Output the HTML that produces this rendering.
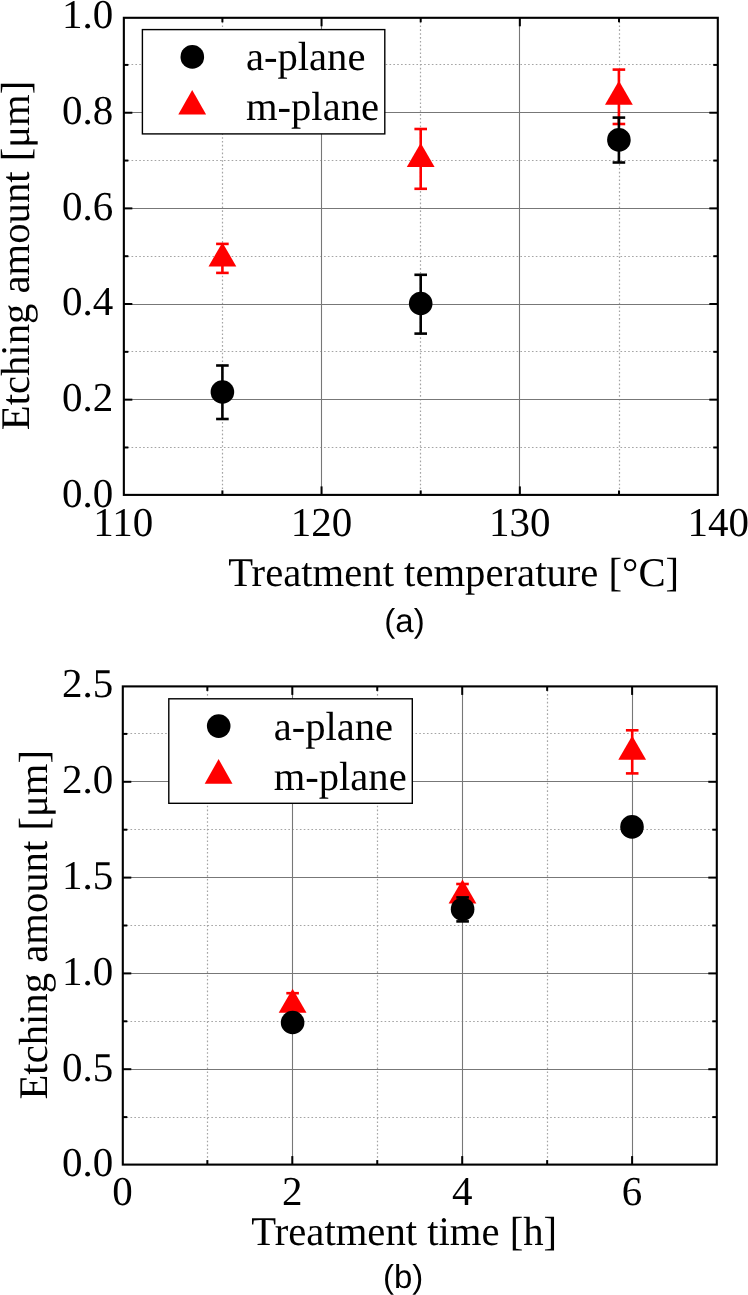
<!DOCTYPE html>
<html><head><meta charset="utf-8"><style>
html,body{margin:0;padding:0;background:#fff;width:748px;height:1295px;overflow:hidden}
svg{display:block;filter:blur(0.35px)}
text{text-rendering:geometricPrecision}
.t{font-family:"Liberation Serif", serif;font-size:41px;fill:#000}
.l{font-family:"Liberation Serif", serif;font-size:40.6px;fill:#000}
.a{font-family:"Liberation Serif", serif;font-size:40.7px;fill:#000}
.c{font-family:"Liberation Sans", sans-serif;font-size:33px;fill:#000}
</style></head><body>
<svg width="748" height="1295" viewBox="0 0 748 1295">
<rect width="748" height="1295" fill="#fff"/>
<line x1="222.5" y1="17.8" x2="222.5" y2="494.9" stroke="#a4a4a4" stroke-width="1.2" stroke-dasharray="1.6 2.25"/>
<line x1="420.5" y1="17.8" x2="420.5" y2="494.9" stroke="#a4a4a4" stroke-width="1.2" stroke-dasharray="1.6 2.25"/>
<line x1="619.5" y1="17.8" x2="619.5" y2="494.9" stroke="#a4a4a4" stroke-width="1.2" stroke-dasharray="1.6 2.25"/>
<line x1="123.85" y1="447.5" x2="717.8" y2="447.5" stroke="#a4a4a4" stroke-width="1.2" stroke-dasharray="1.6 2.25"/>
<line x1="123.85" y1="351.5" x2="717.8" y2="351.5" stroke="#a4a4a4" stroke-width="1.2" stroke-dasharray="1.6 2.25"/>
<line x1="123.85" y1="256.5" x2="717.8" y2="256.5" stroke="#a4a4a4" stroke-width="1.2" stroke-dasharray="1.6 2.25"/>
<line x1="123.85" y1="160.5" x2="717.8" y2="160.5" stroke="#a4a4a4" stroke-width="1.2" stroke-dasharray="1.6 2.25"/>
<line x1="123.85" y1="64.5" x2="717.8" y2="64.5" stroke="#a4a4a4" stroke-width="1.2" stroke-dasharray="1.6 2.25"/>
<line x1="321.5" y1="17.8" x2="321.5" y2="494.9" stroke="#777777" stroke-width="1.1"/>
<line x1="519.5" y1="17.8" x2="519.5" y2="494.9" stroke="#777777" stroke-width="1.1"/>
<line x1="123.85" y1="399.5" x2="717.8" y2="399.5" stroke="#777777" stroke-width="1.1"/>
<line x1="123.85" y1="304.5" x2="717.8" y2="304.5" stroke="#777777" stroke-width="1.1"/>
<line x1="123.85" y1="208.5" x2="717.8" y2="208.5" stroke="#777777" stroke-width="1.1"/>
<line x1="123.85" y1="112.5" x2="717.8" y2="112.5" stroke="#777777" stroke-width="1.1"/>
<line x1="321.55" y1="494.9" x2="321.55" y2="486.4" stroke="#000" stroke-width="2"/>
<line x1="321.55" y1="17.8" x2="321.55" y2="26.3" stroke="#000" stroke-width="2"/>
<line x1="519.85" y1="494.9" x2="519.85" y2="486.4" stroke="#000" stroke-width="2"/>
<line x1="519.85" y1="17.8" x2="519.85" y2="26.3" stroke="#000" stroke-width="2"/>
<line x1="222.4" y1="494.9" x2="222.4" y2="490.4" stroke="#000" stroke-width="2"/>
<line x1="222.4" y1="17.8" x2="222.4" y2="22.3" stroke="#000" stroke-width="2"/>
<line x1="420.7" y1="494.9" x2="420.7" y2="490.4" stroke="#000" stroke-width="2"/>
<line x1="420.7" y1="17.8" x2="420.7" y2="22.3" stroke="#000" stroke-width="2"/>
<line x1="619" y1="494.9" x2="619" y2="490.4" stroke="#000" stroke-width="2"/>
<line x1="619" y1="17.8" x2="619" y2="22.3" stroke="#000" stroke-width="2"/>
<line x1="123.85" y1="399.66" x2="132.35" y2="399.66" stroke="#000" stroke-width="2"/>
<line x1="717.8" y1="399.66" x2="709.3" y2="399.66" stroke="#000" stroke-width="2"/>
<line x1="123.85" y1="304.02" x2="132.35" y2="304.02" stroke="#000" stroke-width="2"/>
<line x1="717.8" y1="304.02" x2="709.3" y2="304.02" stroke="#000" stroke-width="2"/>
<line x1="123.85" y1="208.38" x2="132.35" y2="208.38" stroke="#000" stroke-width="2"/>
<line x1="717.8" y1="208.38" x2="709.3" y2="208.38" stroke="#000" stroke-width="2"/>
<line x1="123.85" y1="112.74" x2="132.35" y2="112.74" stroke="#000" stroke-width="2"/>
<line x1="717.8" y1="112.74" x2="709.3" y2="112.74" stroke="#000" stroke-width="2"/>
<line x1="123.85" y1="447.48" x2="128.35" y2="447.48" stroke="#000" stroke-width="2"/>
<line x1="717.8" y1="447.48" x2="713.3" y2="447.48" stroke="#000" stroke-width="2"/>
<line x1="123.85" y1="351.84" x2="128.35" y2="351.84" stroke="#000" stroke-width="2"/>
<line x1="717.8" y1="351.84" x2="713.3" y2="351.84" stroke="#000" stroke-width="2"/>
<line x1="123.85" y1="256.2" x2="128.35" y2="256.2" stroke="#000" stroke-width="2"/>
<line x1="717.8" y1="256.2" x2="713.3" y2="256.2" stroke="#000" stroke-width="2"/>
<line x1="123.85" y1="160.56" x2="128.35" y2="160.56" stroke="#000" stroke-width="2"/>
<line x1="717.8" y1="160.56" x2="713.3" y2="160.56" stroke="#000" stroke-width="2"/>
<line x1="123.85" y1="64.92" x2="128.35" y2="64.92" stroke="#000" stroke-width="2"/>
<line x1="717.8" y1="64.92" x2="713.3" y2="64.92" stroke="#000" stroke-width="2"/>
<rect x="123.85" y="17.8" width="593.95" height="477.1" fill="none" stroke="#000" stroke-width="2.1"/>
<text x="113.3" y="506.6" text-anchor="end" class="t">0.0</text>
<text x="113.3" y="410.96" text-anchor="end" class="t">0.2</text>
<text x="113.3" y="315.32" text-anchor="end" class="t">0.4</text>
<text x="113.3" y="219.68" text-anchor="end" class="t">0.6</text>
<text x="113.3" y="124.04" text-anchor="end" class="t">0.8</text>
<text x="113.3" y="28.4" text-anchor="end" class="t">1.0</text>
<text x="123.25" y="535.7" text-anchor="middle" class="t">110</text>
<text x="321.55" y="535.7" text-anchor="middle" class="t">120</text>
<text x="519.85" y="535.7" text-anchor="middle" class="t">130</text>
<text x="718.15" y="535.7" text-anchor="middle" class="t">140</text>
<line x1="222.4" y1="243.9" x2="222.4" y2="272.9" stroke="#ff0000" stroke-width="2.6"/><line x1="216.1" y1="243.9" x2="228.7" y2="243.9" stroke="#ff0000" stroke-width="2.6"/><line x1="216.1" y1="272.9" x2="228.7" y2="272.9" stroke="#ff0000" stroke-width="2.6"/>
<path d="M222.4 242.4L236.3 266.4L208.5 266.4Z" fill="#ff0000"/>
<line x1="420.7" y1="129" x2="420.7" y2="188.8" stroke="#ff0000" stroke-width="2.6"/><line x1="414.4" y1="129" x2="427" y2="129" stroke="#ff0000" stroke-width="2.6"/><line x1="414.4" y1="188.8" x2="427" y2="188.8" stroke="#ff0000" stroke-width="2.6"/>
<path d="M420.7 142.9L434.6 166.9L406.8 166.9Z" fill="#ff0000"/>
<line x1="618.9" y1="69.6" x2="618.9" y2="124" stroke="#ff0000" stroke-width="2.6"/><line x1="612.6" y1="69.6" x2="625.2" y2="69.6" stroke="#ff0000" stroke-width="2.6"/><line x1="612.6" y1="124" x2="625.2" y2="124" stroke="#ff0000" stroke-width="2.6"/>
<path d="M618.9 80.8L632.8 104.8L605 104.8Z" fill="#ff0000"/>
<line x1="222.4" y1="365.5" x2="222.4" y2="419" stroke="#000" stroke-width="2.6"/><line x1="216.1" y1="365.5" x2="228.7" y2="365.5" stroke="#000" stroke-width="2.6"/><line x1="216.1" y1="419" x2="228.7" y2="419" stroke="#000" stroke-width="2.6"/>
<circle cx="222.4" cy="392" r="11.8" fill="#000"/>
<line x1="420.7" y1="274.8" x2="420.7" y2="333.6" stroke="#000" stroke-width="2.6"/><line x1="414.4" y1="274.8" x2="427" y2="274.8" stroke="#000" stroke-width="2.6"/><line x1="414.4" y1="333.6" x2="427" y2="333.6" stroke="#000" stroke-width="2.6"/>
<circle cx="420.7" cy="303.5" r="11.8" fill="#000"/>
<line x1="618.9" y1="117.6" x2="618.9" y2="162.5" stroke="#000" stroke-width="2.6"/><line x1="612.6" y1="117.6" x2="625.2" y2="117.6" stroke="#000" stroke-width="2.6"/><line x1="612.6" y1="162.5" x2="625.2" y2="162.5" stroke="#000" stroke-width="2.6"/>
<circle cx="618.9" cy="139.9" r="11.8" fill="#000"/>
<rect x="142.4" y="29.6" width="242.4" height="104.3" fill="#fff" stroke="#000" stroke-width="1.4"/>
<circle cx="192.3" cy="56.9" r="11.8" fill="#000"/>
<path d="M192.2 89.9L206.1 114.5L178.3 114.5Z" fill="#ff0000"/>
<text x="246" y="69.6" class="l">a-plane</text>
<text x="246" y="119.5" class="l">m-plane</text>
<text x="228.2" y="585.6" class="a">Treatment temperature [°C]</text>
<text transform="translate(29.3,430.2) rotate(-90)" x="0" y="0" class="a">Etching amount [μm]</text>
<text x="384.3" y="631.6" class="c">(a)</text>
<line x1="207.5" y1="686.4" x2="207.5" y2="1164.6" stroke="#a4a4a4" stroke-width="1.2" stroke-dasharray="1.6 2.25"/>
<line x1="377.5" y1="686.4" x2="377.5" y2="1164.6" stroke="#a4a4a4" stroke-width="1.2" stroke-dasharray="1.6 2.25"/>
<line x1="547.5" y1="686.4" x2="547.5" y2="1164.6" stroke="#a4a4a4" stroke-width="1.2" stroke-dasharray="1.6 2.25"/>
<line x1="122.8" y1="1117.5" x2="716.8" y2="1117.5" stroke="#a4a4a4" stroke-width="1.2" stroke-dasharray="1.6 2.25"/>
<line x1="122.8" y1="1021.5" x2="716.8" y2="1021.5" stroke="#a4a4a4" stroke-width="1.2" stroke-dasharray="1.6 2.25"/>
<line x1="122.8" y1="925.5" x2="716.8" y2="925.5" stroke="#a4a4a4" stroke-width="1.2" stroke-dasharray="1.6 2.25"/>
<line x1="122.8" y1="829.5" x2="716.8" y2="829.5" stroke="#a4a4a4" stroke-width="1.2" stroke-dasharray="1.6 2.25"/>
<line x1="122.8" y1="733.5" x2="716.8" y2="733.5" stroke="#a4a4a4" stroke-width="1.2" stroke-dasharray="1.6 2.25"/>
<line x1="292.5" y1="686.4" x2="292.5" y2="1164.6" stroke="#777777" stroke-width="1.1"/>
<line x1="462.5" y1="686.4" x2="462.5" y2="1164.6" stroke="#777777" stroke-width="1.1"/>
<line x1="632.5" y1="686.4" x2="632.5" y2="1164.6" stroke="#777777" stroke-width="1.1"/>
<line x1="122.8" y1="1069.5" x2="716.8" y2="1069.5" stroke="#777777" stroke-width="1.1"/>
<line x1="122.8" y1="973.5" x2="716.8" y2="973.5" stroke="#777777" stroke-width="1.1"/>
<line x1="122.8" y1="877.5" x2="716.8" y2="877.5" stroke="#777777" stroke-width="1.1"/>
<line x1="122.8" y1="781.5" x2="716.8" y2="781.5" stroke="#777777" stroke-width="1.1"/>
<line x1="292.3" y1="1164.6" x2="292.3" y2="1156.1" stroke="#000" stroke-width="2"/>
<line x1="292.3" y1="686.4" x2="292.3" y2="694.9" stroke="#000" stroke-width="2"/>
<line x1="462.2" y1="1164.6" x2="462.2" y2="1156.1" stroke="#000" stroke-width="2"/>
<line x1="462.2" y1="686.4" x2="462.2" y2="694.9" stroke="#000" stroke-width="2"/>
<line x1="632.1" y1="1164.6" x2="632.1" y2="1156.1" stroke="#000" stroke-width="2"/>
<line x1="632.1" y1="686.4" x2="632.1" y2="694.9" stroke="#000" stroke-width="2"/>
<line x1="207.35" y1="1164.6" x2="207.35" y2="1160.1" stroke="#000" stroke-width="2"/>
<line x1="207.35" y1="686.4" x2="207.35" y2="690.9" stroke="#000" stroke-width="2"/>
<line x1="377.25" y1="1164.6" x2="377.25" y2="1160.1" stroke="#000" stroke-width="2"/>
<line x1="377.25" y1="686.4" x2="377.25" y2="690.9" stroke="#000" stroke-width="2"/>
<line x1="547.15" y1="1164.6" x2="547.15" y2="1160.1" stroke="#000" stroke-width="2"/>
<line x1="547.15" y1="686.4" x2="547.15" y2="690.9" stroke="#000" stroke-width="2"/>
<line x1="122.8" y1="1069.2" x2="131.3" y2="1069.2" stroke="#000" stroke-width="2"/>
<line x1="716.8" y1="1069.2" x2="708.3" y2="1069.2" stroke="#000" stroke-width="2"/>
<line x1="122.8" y1="973.4" x2="131.3" y2="973.4" stroke="#000" stroke-width="2"/>
<line x1="716.8" y1="973.4" x2="708.3" y2="973.4" stroke="#000" stroke-width="2"/>
<line x1="122.8" y1="877.6" x2="131.3" y2="877.6" stroke="#000" stroke-width="2"/>
<line x1="716.8" y1="877.6" x2="708.3" y2="877.6" stroke="#000" stroke-width="2"/>
<line x1="122.8" y1="781.8" x2="131.3" y2="781.8" stroke="#000" stroke-width="2"/>
<line x1="716.8" y1="781.8" x2="708.3" y2="781.8" stroke="#000" stroke-width="2"/>
<line x1="122.8" y1="1117.1" x2="127.3" y2="1117.1" stroke="#000" stroke-width="2"/>
<line x1="716.8" y1="1117.1" x2="712.3" y2="1117.1" stroke="#000" stroke-width="2"/>
<line x1="122.8" y1="1021.3" x2="127.3" y2="1021.3" stroke="#000" stroke-width="2"/>
<line x1="716.8" y1="1021.3" x2="712.3" y2="1021.3" stroke="#000" stroke-width="2"/>
<line x1="122.8" y1="925.5" x2="127.3" y2="925.5" stroke="#000" stroke-width="2"/>
<line x1="716.8" y1="925.5" x2="712.3" y2="925.5" stroke="#000" stroke-width="2"/>
<line x1="122.8" y1="829.7" x2="127.3" y2="829.7" stroke="#000" stroke-width="2"/>
<line x1="716.8" y1="829.7" x2="712.3" y2="829.7" stroke="#000" stroke-width="2"/>
<line x1="122.8" y1="733.9" x2="127.3" y2="733.9" stroke="#000" stroke-width="2"/>
<line x1="716.8" y1="733.9" x2="712.3" y2="733.9" stroke="#000" stroke-width="2"/>
<rect x="122.8" y="686.4" width="594" height="478.2" fill="none" stroke="#000" stroke-width="2.1"/>
<text x="113.3" y="1176.3" text-anchor="end" class="t">0.0</text>
<text x="113.3" y="1080.5" text-anchor="end" class="t">0.5</text>
<text x="113.3" y="984.7" text-anchor="end" class="t">1.0</text>
<text x="113.3" y="888.9" text-anchor="end" class="t">1.5</text>
<text x="113.3" y="793.1" text-anchor="end" class="t">2.0</text>
<text x="113.3" y="697.3" text-anchor="end" class="t">2.5</text>
<text x="122.4" y="1205.4" text-anchor="middle" class="t">0</text>
<text x="292.3" y="1205.4" text-anchor="middle" class="t">2</text>
<text x="462.2" y="1205.4" text-anchor="middle" class="t">4</text>
<text x="632.1" y="1205.4" text-anchor="middle" class="t">6</text>
<line x1="292.6" y1="993.2" x2="292.6" y2="1016.4" stroke="#ff0000" stroke-width="2.6"/><line x1="286.3" y1="993.2" x2="298.9" y2="993.2" stroke="#ff0000" stroke-width="2.6"/><line x1="286.3" y1="1016.4" x2="298.9" y2="1016.4" stroke="#ff0000" stroke-width="2.6"/>
<path d="M292.6 988.8L306.5 1012.8L278.7 1012.8Z" fill="#ff0000"/>
<line x1="462.5" y1="884" x2="462.5" y2="907" stroke="#ff0000" stroke-width="2.6"/><line x1="456.2" y1="884" x2="468.8" y2="884" stroke="#ff0000" stroke-width="2.6"/><line x1="456.2" y1="907" x2="468.8" y2="907" stroke="#ff0000" stroke-width="2.6"/>
<path d="M462.5 879.5L476.4 903.5L448.6 903.5Z" fill="#ff0000"/>
<line x1="632.2" y1="730.3" x2="632.2" y2="773.4" stroke="#ff0000" stroke-width="2.6"/><line x1="625.9" y1="730.3" x2="638.5" y2="730.3" stroke="#ff0000" stroke-width="2.6"/><line x1="625.9" y1="773.4" x2="638.5" y2="773.4" stroke="#ff0000" stroke-width="2.6"/>
<path d="M632.2 735.8L646.1 759.8L618.3 759.8Z" fill="#ff0000"/>
<circle cx="292.6" cy="1022.5" r="11.8" fill="#000"/>
<line x1="462.6" y1="897.4" x2="462.6" y2="921.4" stroke="#000" stroke-width="2.6"/><line x1="456.3" y1="897.4" x2="468.9" y2="897.4" stroke="#000" stroke-width="2.6"/><line x1="456.3" y1="921.4" x2="468.9" y2="921.4" stroke="#000" stroke-width="2.6"/>
<circle cx="462.6" cy="909.2" r="11.8" fill="#000"/>
<circle cx="632" cy="826.9" r="11.8" fill="#000"/>
<rect x="168.8" y="698.8" width="243.5" height="104.5" fill="#fff" stroke="#000" stroke-width="1.4"/>
<circle cx="218.7" cy="726.1" r="11.8" fill="#000"/>
<path d="M218.6 759.1L232.5 783.7L204.7 783.7Z" fill="#ff0000"/>
<text x="273.7" y="739.6" class="l">a-plane</text>
<text x="273.7" y="789.5" class="l">m-plane</text>
<text x="251.3" y="1245" class="a">Treatment time [h]</text>
<text transform="translate(47.3,1099.5) rotate(-90)" x="0" y="0" class="a">Etching amount [μm]</text>
<text x="383" y="1288" class="c">(b)</text>
</svg>
</body></html>
